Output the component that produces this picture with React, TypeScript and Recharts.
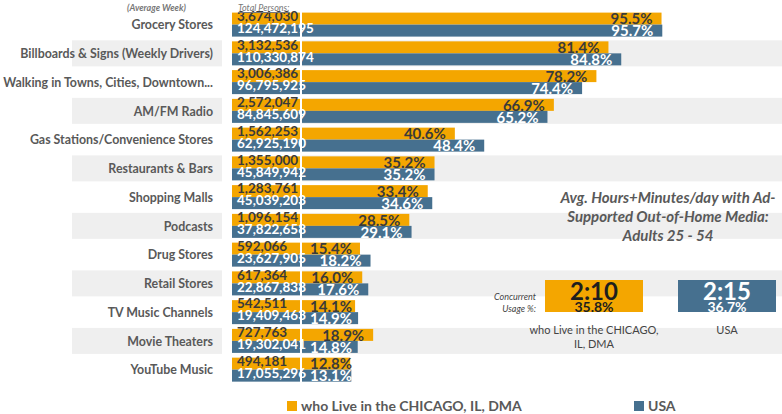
import React from 'react';
import { BarChart, Bar, XAxis, YAxis, LabelList } from 'recharts';

// ── Data ────────────────────────────────────────────────────────────────────
const categories = [
  'Grocery Stores',
  'Billboards & Signs (Weekly Drivers)',
  'Walking in Towns, Cities, Downtown...',
  'AM/FM Radio',
  'Gas Stations/Convenience Stores',
  'Restaurants & Bars',
  'Shopping Malls',
  'Podcasts',
  'Drug Stores',
  'Retail Stores',
  'TV Music Channels',
  'Movie Theaters',
  'YouTube Music',
];
const chicagoShare = [95.5, 81.4, 78.2, 66.9, 40.6, 35.2, 33.4, 28.5, 15.4, 16.0, 14.1, 18.9, 12.8];
const usaShare = [95.7, 84.8, 74.4, 65.2, 48.4, 35.2, 34.6, 29.1, 18.2, 17.6, 14.9, 14.8, 13.1];
const chicagoPersons = [3674030, 3132536, 3006386, 2572047, 1562253, 1355000, 1283761, 1096154, 592066, 617364, 542511, 727763, 494181];
const usaPersons = [124472195, 110330874, 96795925, 84845609, 62925190, 45849942, 45039203, 37822658, 23627905, 22867838, 19409463, 19302041, 17055296];

const seriesNames = ['who Live in the CHICAGO, IL, DMA', 'USA'];
const avgTime = ['2:10', '2:15'];
const concurrentUsage = ['35.8%', '36.7%'];

// ── Styles ──────────────────────────────────────────────────────────────────
const ORANGE = '#F4A600';
const BLUE = '#46708F';
const GREY_TEXT = '#595959';
const DARK_TEXT = '#3a3a3a';
const BAND = '#EFEFEF';
const FONT = 'Lato, "Open Sans", sans-serif';

const data = categories.map((name, i) => ({
  name,
  chicago: chicagoShare[i],
  usa: usaShare[i],
  chicagoPersons: chicagoPersons[i],
  usaPersons: usaPersons[i],
}));

const fmt = (n: number) => n.toLocaleString('en-US');

// orange bar: row band (odd rows), persons box, then the share bar
function ChicagoShape(props: any) {
  const { x, y, width, height, index, payload } = props;
  const bandW = props.background ? props.background.width : 480;
  return (
    <g>
      {index % 2 === 1 && (
        <>
          <rect x={72} y={y - 1} width={150} height={height * 2 + 2} fill={BAND} />
          <rect x={x} y={y - 1} width={bandW} height={height * 2 + 2} fill={BAND} />
        </>
      )}
      <rect x={x - 70} y={y} width={68} height={height} fill={ORANGE} />
      <rect x={x} y={y} width={width} height={height} fill={ORANGE} />
      <text x={x - 65} y={y + height / 2 - 2.5} dy="0.35em" fontSize={13.5} fontWeight={700} fill={DARK_TEXT} fontFamily={FONT}>
        {fmt(payload.chicagoPersons)}
      </text>
    </g>
  );
}

// blue bar: persons box, share bar, persons text and the white column gap over it
function UsaShape(props: any) {
  const { x, y, width, height, payload } = props;
  return (
    <g>
      <rect x={x - 70} y={y} width={68} height={height} fill={BLUE} />
      <rect x={x} y={y} width={width} height={height} fill={BLUE} />
      <text x={x - 65} y={y + height / 2 - 2.5} dy="0.35em" fontSize={13.5} fontWeight={700} fill="#fff" fontFamily={FONT}>
        {fmt(payload.usaPersons)}
      </text>
      <rect x={x - 2} y={y - height} width={2} height={height * 2} fill="#fff" />
    </g>
  );
}

const shareLabel = (color: string) => (props: any) => {
  const { x, y, width, height, value } = props;
  const right = Math.max(x + width - 9, x + 50);
  return (
    <text x={right} y={y + height / 2 + 0.5} dy="0.35em" textAnchor="end" fontSize={15} fontWeight={700} fill={color} fontFamily={FONT}>
      {`${Number(value).toFixed(1)}%`}
    </text>
  );
};

function CategoryTick(props: any) {
  const { y, payload } = props;
  return (
    <text x={213} y={y} dy="0.35em" textAnchor="end" fontSize={12.4} fontWeight={700} fill={GREY_TEXT} fontFamily={FONT}>
      {payload.value}
    </text>
  );
}

export default function App() {
  return (
    <div style={{ position: 'absolute', left: 0, top: 0, width: 782, height: 414, background: '#fff', fontFamily: FONT, overflow: 'hidden' }}>
      <BarChart
        width={782}
        height={414}
        data={data}
        layout="vertical"
        margin={{ top: 10.6, right: 0, bottom: 29.6, left: 0 }}
        barGap={0}
      >
        <XAxis type="number" domain={[0, 127.5]} hide />
        <YAxis
          type="category"
          dataKey="name"
          width={302}
          axisLine={false}
          tickLine={false}
          interval={0}
          tick={<CategoryTick />}
        />
        <Bar dataKey="chicago" barSize={12} fill={ORANGE} shape={<ChicagoShape />} isAnimationActive={false}>
          <LabelList dataKey="chicago" content={shareLabel(DARK_TEXT)} />
        </Bar>
        <Bar dataKey="usa" barSize={12} fill={BLUE} shape={<UsaShape />} isAnimationActive={false}>
          <LabelList dataKey="usa" content={shareLabel('#fff')} />
        </Bar>
      </BarChart>

      {/* column headers */}
      <div style={{ position: 'absolute', left: 127, top: 2, fontSize: 9, fontStyle: 'italic', fontWeight: 700, color: '#777' }}>
        (Average Week)
      </div>
      <div style={{ position: 'absolute', left: 238, top: 2, fontSize: 9, fontStyle: 'italic', color: '#777', textDecoration: 'underline' }}>
        Total Persons:
      </div>

      {/* side annotation */}
      <div style={{ position: 'absolute', left: 552, top: 188, width: 232, textAlign: 'center', fontSize: 15, lineHeight: '19px', fontStyle: 'italic', fontWeight: 700, color: GREY_TEXT }}>
        Avg. Hours+Minutes/day with Ad-Supported Out-of-Home Media: Adults 25 - 54
      </div>
      <div style={{ position: 'absolute', left: 470, top: 291, width: 66, textAlign: 'right', fontSize: 9, lineHeight: '12px', fontStyle: 'italic', color: '#444' }}>
        Concurrent<br />Usage %:
      </div>
      {[0, 1].map(i => (
        <div key={i} style={{ position: 'absolute', left: i === 0 ? 545 : 678, top: 280, width: 98 }}>
          <div style={{ height: 32, background: i === 0 ? ORANGE : BLUE, color: i === 0 ? '#1e1e1e' : '#fff', textAlign: 'center', fontWeight: 700 }}>
            <div style={{ fontSize: 24, lineHeight: '20px', paddingTop: 1 }}>{avgTime[i]}</div>
            <div style={{ fontSize: 14, lineHeight: '12px' }}>{concurrentUsage[i]}</div>
          </div>
          <div style={{ marginTop: 11, marginLeft: -20, width: 138, textAlign: 'center', fontSize: 11, lineHeight: '14px', color: '#444' }}>
            {seriesNames[i]}
          </div>
        </div>
      ))}

      {/* legend */}
      {[0, 1].map(i => (
        <div key={i} style={{ position: 'absolute', left: i === 0 ? 287 : 634, top: 397, display: 'flex', alignItems: 'center', fontSize: 14, fontWeight: 700, color: GREY_TEXT }}>
          <span style={{ width: 10, height: 10, background: i === 0 ? ORANGE : BLUE, marginRight: 4, display: 'inline-block' }} />
          {seriesNames[i]}
        </div>
      ))}
    </div>
  );
}
